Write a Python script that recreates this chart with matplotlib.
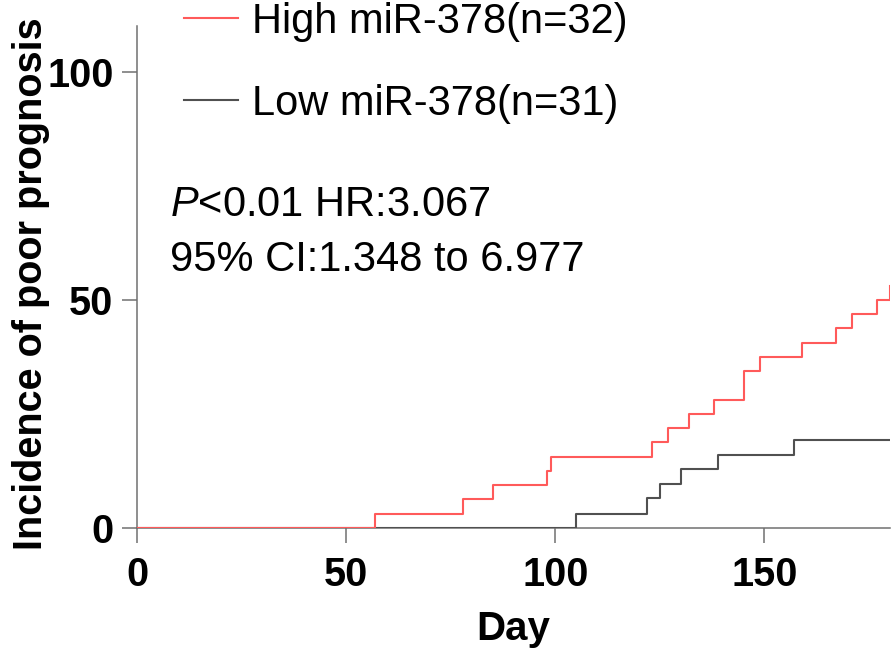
import matplotlib
matplotlib.use("Agg")
from matplotlib import pyplot as plt

plt.rcParams['font.family'] = ['Liberation Sans', 'DejaVu Sans']
plt.rcParams['mathtext.fontset'] = 'custom'
plt.rcParams['mathtext.rm'] = 'Liberation Sans'
plt.rcParams['mathtext.it'] = 'Liberation Sans:italic'

# step curves (day, cumulative incidence %)
high_days = [0, 57, 78, 85, 98, 99, 123, 127, 132, 138, 145, 149, 159, 167, 171, 177, 180]
high_vals = [0, 3.1, 6.3, 9.4, 12.5, 15.6, 18.8, 21.9, 25.0, 28.1, 34.4, 37.5, 40.6, 43.8, 46.9, 50.0, 53.1]
low_days = [0, 105, 122, 125, 130, 139, 157, 180]
low_vals = [0, 3.2, 6.5, 9.7, 12.9, 16.1, 19.4, 19.4]

labels = ['High miR-378(n=32)', 'Low miR-378(n=31)']
x_ticks = [0, 50, 100, 150]
y_ticks = [0, 50, 100]
stats_lines = ['$P$<0.01 HR:3.067', '95% CI:1.348 to 6.977']

axis_grey = '#707070'

fig = plt.figure(figsize=(8.93, 6.52), dpi=100)
ax = fig.add_axes([0.1534, 0.19, 0.8432, 0.77])

ax.step(high_days, high_vals, where='post', color='#ff5a5a', lw=1.5, label=labels[0], zorder=4)
ax.step(low_days, low_vals, where='post', color='#505050', lw=1.5, label=labels[1], zorder=3)

ax.set_xlim(0, 180)
ax.set_ylim(0, 110)
ax.set_xticks(x_ticks)
ax.set_yticks(y_ticks)

for side in ['top', 'right']:
    ax.spines[side].set_visible(False)
for side in ['left', 'bottom']:
    ax.spines[side].set_color(axis_grey)
    ax.spines[side].set_linewidth(1.1)

ax.tick_params(axis='both', direction='out', length=11, width=1.1, color=axis_grey,
               labelsize=28.5)
ax.tick_params(axis='x', pad=9)
ax.tick_params(axis='y', pad=6)
for lab in ax.get_xticklabels() + ax.get_yticklabels():
    lab.set_fontweight('bold')

ax.set_xlabel('Day', fontsize=29, fontweight='bold')
ax.xaxis.set_label_coords(0.5, -0.163)
ax.set_ylabel('Incidence of poor prognosis', fontsize=28.5, fontweight='bold')
ax.yaxis.set_label_coords(-0.1155, 0.487)

ax.text(0.044, 70.8, stats_lines[0], transform=ax.get_yaxis_transform(),
        fontsize=30, va='center', ha='left')
ax.text(0.044, 58.8, stats_lines[1], transform=ax.get_yaxis_transform(),
        fontsize=30, va='center', ha='left')

ax.legend(loc='upper left', bbox_to_anchor=(0.062, 1.048), frameon=False,
          fontsize=30, handlelength=1.3, handletextpad=0.35, labelspacing=1.0,
          borderpad=0, borderaxespad=0)

fig.savefig('out.png', dpi=100)
